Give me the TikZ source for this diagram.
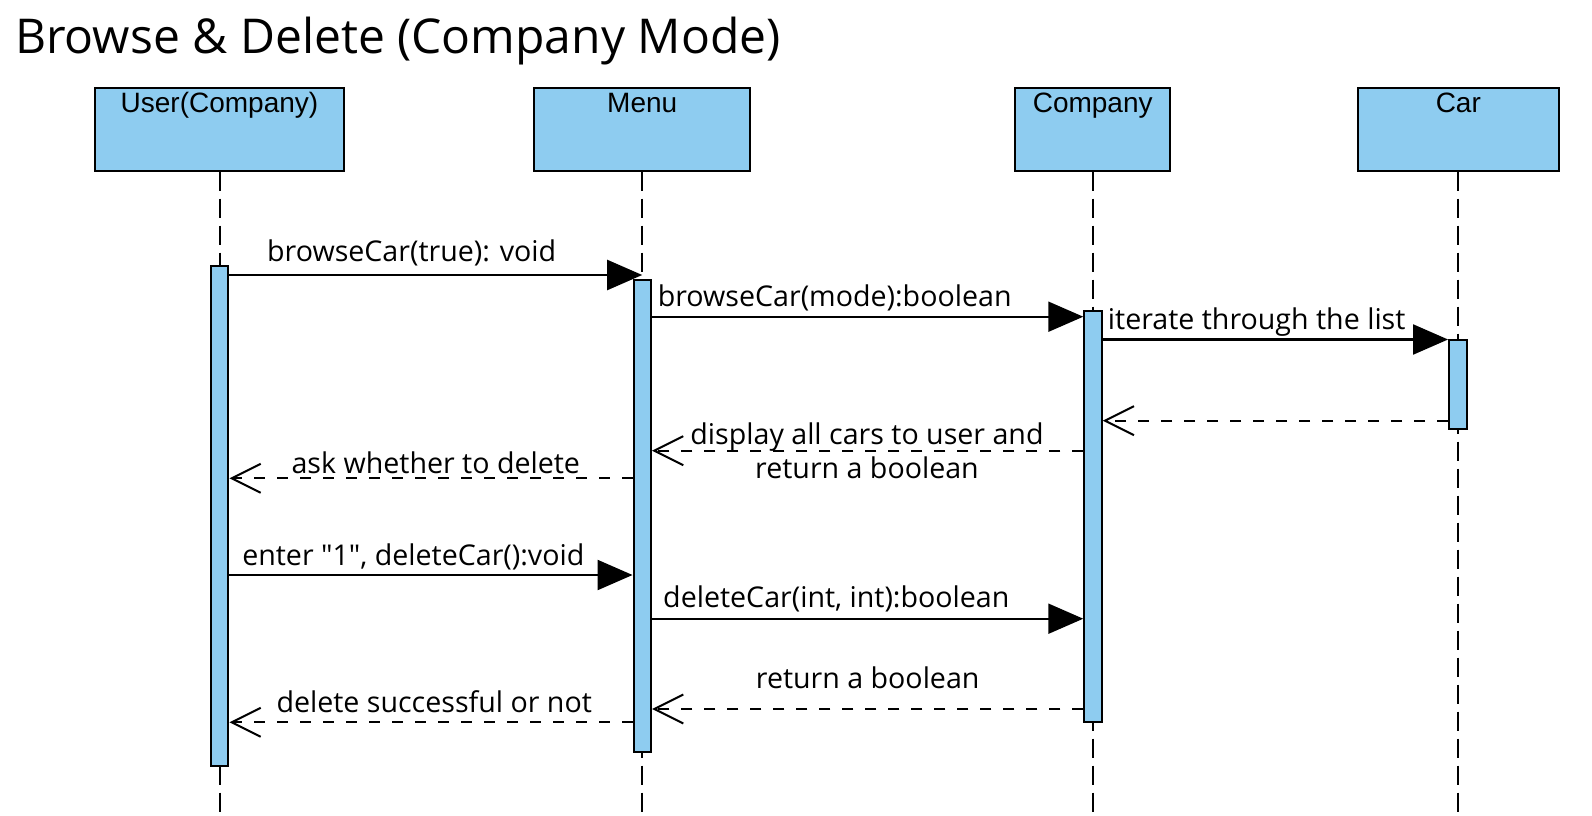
\documentclass[tikz,border=0pt]{standalone}
\usepackage{fontspec}
\setmainfont{Open Sans}[Ligatures=TeXOff]
\newfontfamily\hdrfont{Liberation Sans}
\usetikzlibrary{arrows.meta}
\definecolor{actblue}{RGB}{142,204,240}
\begin{document}
\begin{tikzpicture}[x=1pt,y=-1pt,
  hdr/.style={draw=black, line width=2pt, fill=actblue, minimum height=83pt, inner sep=0pt, anchor=north},
  hdrtext/.style={font=\hdrfont\fontsize{28}{32}\selectfont, anchor=base, inner sep=0pt},
  act/.style={draw=black, line width=2pt, fill=actblue, minimum width=17.5pt, inner sep=0pt, anchor=north},
  lifeline/.style={line width=2pt, dash pattern=on 19pt off 8pt},
  msg/.style={line width=2.2pt, -{Triangle[length=35pt,width=30pt]}},
  ret/.style={line width=2.2pt, dash pattern=on 11pt off 12pt, -{Straight Barb[length=29pt,width=29pt,line width=2pt]}},
  lbl/.style={font=\fontsize{28.6}{34}\selectfont, anchor=base, inner sep=0pt}]
\useasboundingbox (0,0) rectangle (1592,816);
\node[font=\fontsize{48}{56}\selectfont, anchor=base west, inner sep=0pt] (title) at (15,53) {Browse \& Delete (Company Mode)};
% headers
\node[hdr, minimum width=249pt] (uH) at (219.5,86.7) {};
\node[hdr, minimum width=215.7pt] (mH) at (642.2,86.7) {};
\node[hdr, minimum width=154.7pt] (cH) at (1092.7,86.7) {};
\node[hdr, minimum width=201pt] (carH) at (1458.3,86.7) {};
\node[hdrtext] (uT) at (219.5,112.5) {User(Company)};
\node[hdrtext] (mT) at (642.2,112.5) {Menu};
\node[hdrtext] (cT) at (1092.7,112.5) {Company};
\node[hdrtext] (carT) at (1458.3,112.5) {Car};
% lifelines
\coordinate (bot) at (0,816);
\draw[lifeline] (uH.south) -- (uH.south |- bot);
\draw[lifeline] (mH.south) -- (mH.south |- bot);
\draw[lifeline] (cH.south) -- (cH.south |- bot);
\draw[lifeline] (carH.south) -- (carH.south |- bot);
% activations
\node[act, minimum height=500pt] (uA) at (219.7,265) {};
\node[act, minimum height=472pt] (mA) at (642.3,279) {};
\node[act, minimum height=411pt] (cA) at (1093,310) {};
\node[act, minimum height=89pt] (carA) at (1457.8,339) {};
% message levels
\coordinate (y1) at (0,275);
\coordinate (y2) at (0,316.7);
\coordinate (y3) at (0,339.5);
\coordinate (y4) at (0,420.7);
\coordinate (y5) at (0,450.7);
\coordinate (y6) at (0,478.3);
\coordinate (y7) at (0,575);
\coordinate (y8) at (0,618.7);
\coordinate (y9) at (0,709);
\coordinate (y10) at (0,722.3);
% messages
\draw[msg] (uA.east |- y1) -- (mH.south |- y1);
\draw[msg] (mA.east |- y2) -- (cA.west |- y2);
\draw[msg] (cA.east |- y3) -- (carA.west |- y3);
\draw[ret] (carA.west |- y4) -- (cA.east |- y4);
\draw[ret] (cA.west |- y5) -- (mA.east |- y5);
\draw[ret] (mA.west |- y6) -- (uA.east |- y6);
\draw[msg] (uA.east |- y7) -- (mA.west |- y7);
\draw[msg] (mA.east |- y8) -- (cA.west |- y8);
\draw[ret] (cA.west |- y9) -- (mA.east |- y9);
\draw[ret] (mA.west |- y10) -- (uA.east |- y10);
% labels
\node[lbl] (l1) at (411.7,261.7) {browseCar(true): void};
\node[lbl] (l2) at (834.7,306.7) {browseCar(mode):boolean};
\node[lbl] (l3) at (1256.7,329) {iterate through the list};
\node[lbl] (l5a) at (867,444) {display all cars to user and};
\node[lbl] (l5b) at (867,478) {return a boolean};
\node[lbl] (l6) at (435.8,473.3) {ask whether to delete};
\node[lbl] (l7) at (413.3,565.7) {enter "1", deleteCar():void};
\node[lbl] (l8) at (836.3,607) {deleteCar(int, int):boolean};
\node[lbl] (l9) at (867.7,688.3) {return a boolean};
\node[lbl] (l10) at (434.2,712.7) {delete successful or not};
\end{tikzpicture}
\end{document}
